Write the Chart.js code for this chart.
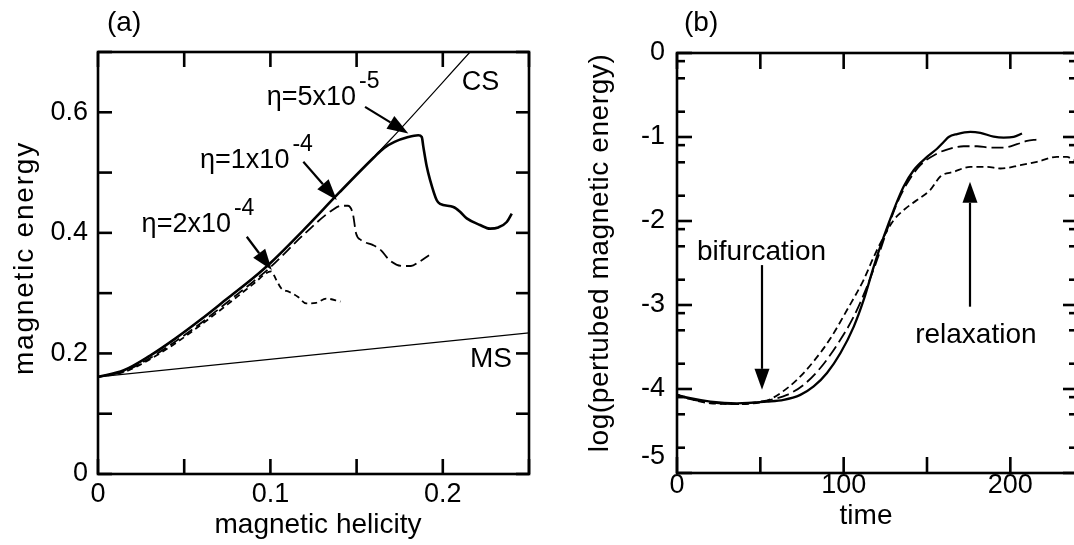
<!DOCTYPE html>
<html>
<head>
<meta charset="utf-8">
<script src="https://cdn.jsdelivr.net/npm/chart.js@4.4.1/dist/chart.umd.min.js"></script>
<style>
  html, body { margin: 0; padding: 0; background: #fff; overflow: hidden; }
  #wrap { position: relative; width: 1074px; height: 545px; overflow: hidden; background: #fff; }
  canvas { position: absolute; top: 0; }
  #chartA { left: 0; }
  #chartB { left: 540px; }
</style>
</head>
<body>
<div id="wrap">
  <canvas id="chartA" width="540" height="545"></canvas>
  <canvas id="chartB" width="545" height="545"></canvas>
</div>
<script>
// ---- panel (a): magnetic energy vs magnetic helicity ----
const aXTickValues = [0, 0.05, 0.1, 0.15, 0.2, 0.25];
const aXTickLabels = ["0", "", "0.1", "", "0.2", ""];
const aYTickValues = [0, 0.1, 0.2, 0.3, 0.4, 0.5, 0.6, 0.7];
const aYTickLabels = ["0", "", "0.2", "", "0.4", "", "0.6", ""];

const csX = [0, 0.015, 0.03, 0.045, 0.06, 0.075, 0.09, 0.1, 0.12, 0.136, 0.1694, 0.2158];
const csY = [0.161, 0.172, 0.196, 0.225, 0.257, 0.291, 0.325, 0.350, 0.407, 0.455, 0.554, 0.70];

const msX = [0, 0.25];
const msY = [0.161, 0.234];

const eta5X = [0, 0.015, 0.03, 0.045, 0.06, 0.075, 0.09, 0.1, 0.12, 0.14, 0.16, 0.166, 0.172, 0.179, 0.1858, 0.1878, 0.1887, 0.1907, 0.1926, 0.1965, 0.1984, 0.2061, 0.21, 0.2139, 0.2216, 0.2274, 0.2322, 0.2371, 0.24];
const eta5Y = [0.161, 0.172, 0.196, 0.225, 0.257, 0.291, 0.325, 0.350, 0.407, 0.467, 0.525, 0.541, 0.551, 0.558, 0.562, 0.559, 0.543, 0.510, 0.488, 0.454, 0.448, 0.443, 0.435, 0.424, 0.413, 0.407, 0.409, 0.418, 0.432];

const eta1X = [0, 0.015, 0.03, 0.045, 0.06, 0.075, 0.09, 0.1, 0.12, 0.136, 0.141, 0.1449, 0.1478, 0.1497, 0.1526, 0.1593, 0.1642, 0.169, 0.1767, 0.1815, 0.1863, 0.192];
const eta1Y = [0.161, 0.170, 0.192, 0.220, 0.251, 0.285, 0.319, 0.343, 0.399, 0.438, 0.445, 0.445, 0.432, 0.399, 0.388, 0.380, 0.371, 0.355, 0.345, 0.345, 0.352, 0.363];

const eta2X = [0, 0.015, 0.03, 0.045, 0.06, 0.075, 0.09, 0.1005, 0.1034, 0.1063, 0.111, 0.1159, 0.1208, 0.1265, 0.1323, 0.1406];
const eta2Y = [0.161, 0.169, 0.190, 0.217, 0.248, 0.281, 0.315, 0.336, 0.322, 0.308, 0.302, 0.294, 0.283, 0.284, 0.291, 0.286];

// ---- panel (b): log(perturbed magnetic energy) vs time ----
const bXTickValues = [0, 50, 100, 150, 200];
const bXTickLabels = ["0", "", "100", "", "200"];
const bYTickValues = [-5, -4, -3, -2, -1, 0];
// "-5" sits a little above its tick in the original, hence the empty second line
const bYTickLabels = [["-5", ""], "-4", "-3", "-2", "-1", "0"];
const bYMinorMantissa = [2, 5, 8];

const solidT = [0, 8, 20, 36, 54, 64, 74, 82, 90, 98, 106, 112, 118, 124, 130, 136, 142, 150, 156, 160, 163, 168, 176, 182, 190, 196, 202, 207];
const solidV = [-4.07, -4.11, -4.15, -4.17, -4.15, -4.13, -4.07, -3.97, -3.81, -3.575, -3.26, -2.94, -2.545, -2.19, -1.87, -1.59, -1.395, -1.237, -1.14, -1.06, -1.0, -0.965, -0.939, -0.951, -0.995, -1.007, -0.999, -0.959];

const longT = [0, 8, 20, 36, 50, 56, 66, 76, 86, 96, 106, 114, 120, 126, 132, 138, 146, 156, 162, 172, 180, 188, 196, 204, 210, 216];
const longV = [-4.07, -4.12, -4.16, -4.18, -4.15, -4.13, -4.07, -3.95, -3.75, -3.476, -3.14, -2.78, -2.465, -2.11, -1.79, -1.554, -1.336, -1.197, -1.149, -1.11, -1.11, -1.126, -1.126, -1.086, -1.046, -1.03];

const shortT = [0, 8, 20, 36, 50, 54, 62, 72, 82, 92, 102, 112, 118, 124, 130, 136, 144, 152, 158, 166, 176, 186, 194, 206, 216, 228, 234, 238];
const shortV = [-4.07, -4.12, -4.17, -4.18, -4.16, -4.14, -4.05, -3.89, -3.67, -3.40, -3.06, -2.70, -2.43, -2.19, -1.99, -1.87, -1.75, -1.63, -1.47, -1.415, -1.355, -1.355, -1.375, -1.336, -1.296, -1.237, -1.237, -1.276];

const FONT = "'Liberation Sans', Arial, Helvetica, sans-serif";

function series(xs, ys, width, dash) {
  return {
    data: xs.map((x, i) => ({ x, y: ys[i] })),
    borderColor: "#000",
    borderWidth: width,
    borderDash: dash || [],
    pointRadius: 0,
    fill: false,
    cubicInterpolationMode: "monotone",
  };
}

function arrow(ctx, x1, y1, x2, y2) {
  const ang = Math.atan2(y2 - y1, x2 - x1);
  const headLen = 21, headW = 7.5;
  const bx = x2 - headLen * Math.cos(ang), by = y2 - headLen * Math.sin(ang);
  ctx.lineWidth = 2.2;
  ctx.beginPath(); ctx.moveTo(x1, y1); ctx.lineTo(bx, by); ctx.stroke();
  ctx.beginPath();
  ctx.moveTo(x2, y2);
  ctx.lineTo(bx + headW * Math.sin(ang), by - headW * Math.cos(ang));
  ctx.lineTo(bx - headW * Math.sin(ang), by + headW * Math.cos(ang));
  ctx.closePath();
  ctx.fill();
}

// frame, inward ticks, arrows and text
const framePlugin = {
  id: "frame",
  afterDatasetsDraw(chart, args, o) {
    const { ctx, chartArea: a } = chart;
    const sx = chart.scales.x, sy = chart.scales.y;
    const seg = (x1, y1, x2, y2) => { ctx.beginPath(); ctx.moveTo(x1, y1); ctx.lineTo(x2, y2); ctx.stroke(); };
    ctx.save();
    ctx.strokeStyle = "#000";
    ctx.fillStyle = "#000";
    ctx.lineWidth = 2.6;
    ctx.strokeRect(a.left, a.top, a.right - a.left, a.bottom - a.top);

    o.xTicks.forEach(v => {
      const p = sx.getPixelForValue(v);
      seg(p, a.bottom, p, a.bottom - o.xLen);
      seg(p, a.top, p, a.top + o.xLen);
    });
    o.yTicks.forEach(v => {
      const p = sy.getPixelForValue(v);
      seg(a.left, p, a.left + o.yLen, p);
      seg(a.right, p, a.right - o.yLenR, p);
    });
    (o.yMinor || []).forEach(v => {
      const p = sy.getPixelForValue(v);
      seg(a.left, p, a.left + o.yMinorLen, p);
      seg(a.right, p, a.right - o.yMinorLen, p);
    });

    o.arrows.forEach(r => arrow(ctx,
      sx.getPixelForValue(r[0]), sy.getPixelForValue(r[1]),
      sx.getPixelForValue(r[2]), sy.getPixelForValue(r[3])));

    ctx.textAlign = "left";
    ctx.textBaseline = "alphabetic";
    o.notes.forEach(n => {
      const px = sx.getPixelForValue(n.x), py = sy.getPixelForValue(n.y);
      ctx.font = n.size + "px " + FONT;
      ctx.fillText(n.text, px, py);
      if (n.sup) {
        const w = ctx.measureText(n.text).width;
        ctx.font = "23px " + FONT;
        ctx.fillText(n.sup, px + w + 3, py - 17);
      }
    });

    o.titles.forEach(t => {
      ctx.save();
      ctx.font = t.size + "px " + FONT;
      ctx.letterSpacing = (t.spacing || 0) + "px";
      ctx.textAlign = t.align || "center";
      ctx.translate(t.x, t.y);
      if (t.rot) ctx.rotate(-Math.PI / 2);
      ctx.fillText(t.text, 0, 0);
      ctx.restore();
    });
    ctx.restore();
  }
};

function axis(min, max, values, labels, fit, pad) {
  return {
    type: "linear",
    min, max,
    afterBuildTicks: s => { s.ticks = values.map(v => ({ value: v })); },
    afterFit: fit,
    ticks: {
      callback: (v, i) => labels[i],
      color: "#000",
      font: { family: FONT, size: 27 },
      padding: pad,
      autoSkip: false,
      maxRotation: 0,
    },
    grid: { display: false, drawTicks: false },
    border: { display: false },
  };
}

Chart.defaults.animation = false;

new Chart(document.getElementById("chartA"), {
  type: "line",
  data: {
    datasets: [
      series(csX, csY, 1.2),
      series(msX, msY, 1.3),
      series(eta2X, eta2Y, 1.8, [6, 4]),
      series(eta1X, eta1Y, 1.8, [11, 5]),
      series(eta5X, eta5Y, 2.6),
    ]
  },
  options: {
    responsive: false,
    layout: { padding: { top: 52, right: 11, left: 0, bottom: 0 } },
    plugins: {
      legend: { display: false },
      tooltip: { enabled: false },
      frame: {
        xTicks: aXTickValues, xLen: 15,
        yTicks: aYTickValues, yLen: 14, yLenR: 13,
        arrows: [
          [0.1549, 0.609, 0.180, 0.565],
          [0.1191, 0.518, 0.1385, 0.4544],
          [0.0863, 0.3935, 0.1008, 0.3383],
        ],
        notes: [
          { text: "η=5x10", sup: "-5", x: 0.0979, y: 0.612, size: 27 },
          { text: "η=1x10", sup: "-4", x: 0.0592, y: 0.507, size: 27 },
          { text: "η=2x10", sup: "-4", x: 0.0253, y: 0.402, size: 27 },
          { text: "CS", x: 0.211, y: 0.637, size: 27 },
          { text: "MS", x: 0.2158, y: 0.178, size: 28 },
        ],
        titles: [
          { text: "magnetic helicity", x: 318, y: 533, size: 28 },
          { text: "magnetic energy", x: 33, y: 258, size: 28, rot: true, spacing: 1.8 },
          { text: "(a)", x: 107, y: 31, size: 28, align: "left" },
        ],
      },
    },
    scales: {
      x: axis(0, 0.25, aXTickValues, aXTickLabels, s => { s.height = 71; }, 4),
      y: axis(0, 0.7, aYTickValues, aYTickLabels, s => { s.width = 98; }, 10),
    },
  },
  plugins: [framePlugin],
});

const bYMinor = [];
for (let d = -5; d < 0; d++) bYMinorMantissa.forEach(m => bYMinor.push(d + Math.log10(m)));

new Chart(document.getElementById("chartB"), {
  type: "line",
  data: {
    datasets: [
      series(shortT, shortV, 1.8, [7, 4]),
      series(longT, longV, 1.8, [12, 5]),
      series(solidT, solidV, 2.3),
    ]
  },
  options: {
    responsive: false,
    layout: { padding: { top: 53, right: 8, left: 0, bottom: 0 } },
    plugins: {
      legend: { display: false },
      tooltip: { enabled: false },
      frame: {
        xTicks: bXTickValues, xLen: 16,
        yTicks: bYTickValues, yLen: 15, yLenR: 14,
        yMinor: bYMinor, yMinorLen: 8,
        arrows: [
          [51, -2.525, 51, -4.01],
          [175.8, -3.02, 175.8, -1.534],
        ],
        notes: [
          { text: "bifurcation", x: 12, y: -2.465, size: 28 },
          { text: "relaxation", x: 142.9, y: -3.452, size: 28 },
        ],
        titles: [
          { text: "time", x: 326, y: 524, size: 28 },
          { text: "log(pertubed magnetic energy)", x: 67.5, y: 253, size: 28, rot: true, spacing: 0.6 },
          { text: "(b)", x: 144, y: 31, size: 28, align: "left" },
        ],
      },
    },
    scales: {
      x: axis(0, 240, bXTickValues, bXTickLabels, s => { s.height = 72; }, -4),
      y: axis(-5, 0, bYTickValues, bYTickLabels, s => { s.width = 137; }, 12),
    },
  },
  plugins: [framePlugin],
});
</script>
</body>
</html>
